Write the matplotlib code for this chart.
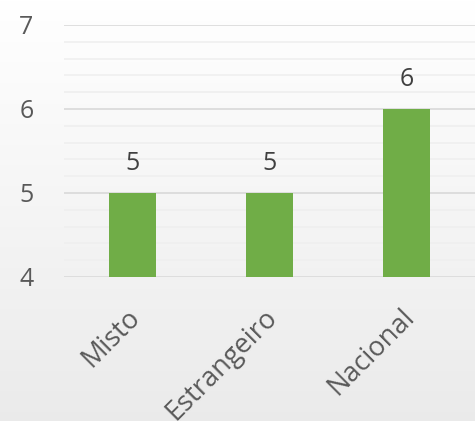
import numpy as np
import matplotlib
matplotlib.use("Agg")
import matplotlib.pyplot as plt
import matplotlib.transforms as mtransforms
from matplotlib.ticker import MultipleLocator

categories = ["Misto", "Estrangeiro", "Nacional"]
values = [5, 5, 6]

plt.rcParams['font.family'] = ['Open Sans', 'DejaVu Sans']

fig = plt.figure(figsize=(4.75, 4.21), dpi=100)
bg = fig.add_axes([0, 0, 1, 1], zorder=-10)
grad = np.linspace(1.0, 0.92, 256).reshape(-1, 1)
bg.imshow(np.dstack([grad, grad, grad]), aspect='auto', extent=[0, 1, 0, 1])
bg.axis('off')

ax = fig.add_axes([64/475, 1 - 277/421, 411/475, (277-25)/421])
ax.patch.set_alpha(0)
x = np.arange(len(categories))
ax.bar(x, values, width=0.336, bottom=0, color='#70ad47', zorder=3)
ax.set_xlim(-0.5, 2.5)
ax.set_ylim(4, 7)
ax.yaxis.set_major_locator(MultipleLocator(1))
ax.yaxis.set_minor_locator(MultipleLocator(0.2))
ax.grid(axis='y', which='major', color='#d9d9d9', linewidth=1.2, zorder=0)
ax.grid(axis='y', which='minor', color='#efefef', linewidth=1.2, zorder=0)
for s in ax.spines.values():
    s.set_visible(False)
ax.tick_params(axis='both', which='both', length=0)
ax.tick_params(axis='y', labelsize=18, labelcolor='#595959', pad=22)
ax.set_xticks(x)
ax.set_xticklabels(categories, rotation=45, ha='right', rotation_mode='anchor',
                   fontsize=19.5, color='#595959')
ax.tick_params(axis='x', pad=19)
offset = mtransforms.ScaledTranslation(-6/100, 0, fig.dpi_scale_trans)
for lbl in ax.get_xticklabels():
    lbl.set_transform(lbl.get_transform() + offset)
for xi, v in zip(x, values):
    ax.text(xi, v + 0.2, str(v), ha='center', va='bottom', fontsize=18, color='#404040')

fig.savefig('out.png', dpi=100)
